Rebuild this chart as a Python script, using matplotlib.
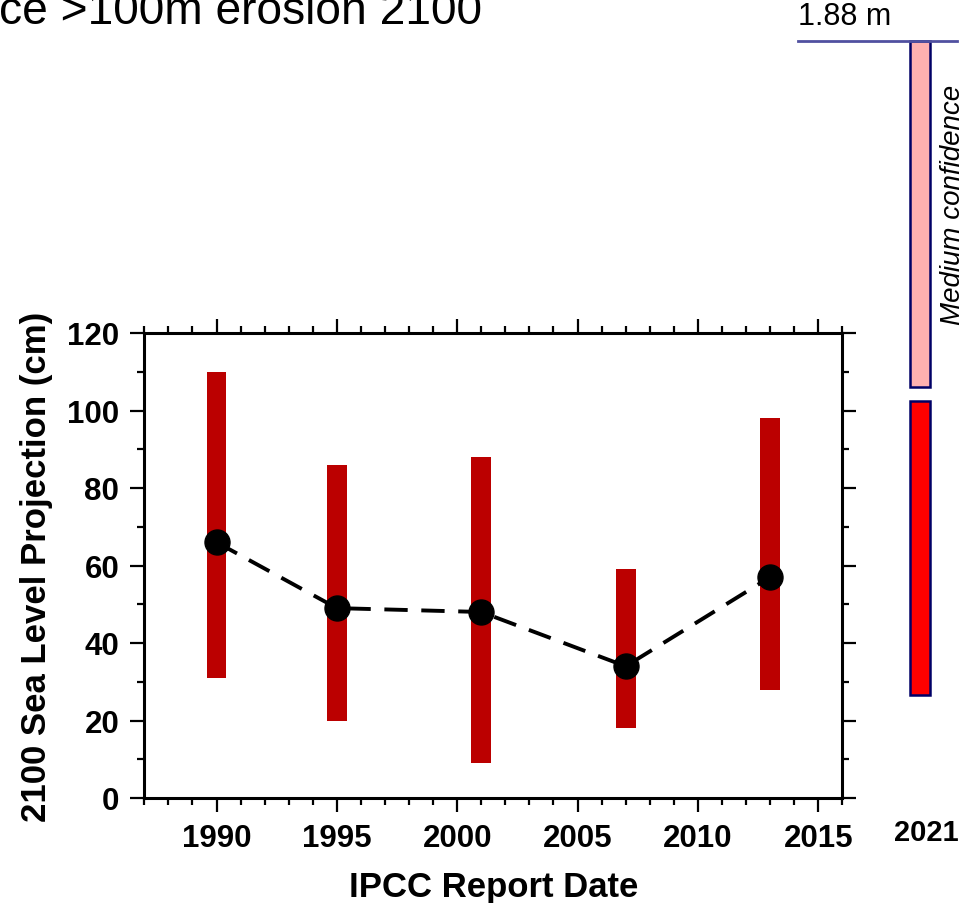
import matplotlib
matplotlib.use("Agg")
import matplotlib.pyplot as plt
import matplotlib.transforms as mtransforms
from matplotlib import font_manager
from matplotlib.ticker import MultipleLocator

# IPCC report projections of 2100 sea level (cm)
years = [1990, 1995, 2001, 2007, 2013]
low = [31, 20, 9, 18, 28]
high = [110, 86, 88, 59, 98]
central = [66, 49, 48, 34, 57]

# 2021 report (AR6) overlay, drawn beside the axes
ar6_likely = [26.7, 102.5]
ar6_medium = [106, 195.4]
ar6_label = "2021"
top_label = "1.88 m"

plt.rcParams['font.family'] = ['Liberation Sans', 'DejaVu Sans']

W, H = 964, 904
fig = plt.figure(figsize=(W / 100, H / 100), dpi=100)
ax = fig.add_axes([144.3 / W, 1 - 799 / H, 698 / W, 465 / H])

bar_w = 0.82
for x, lo, hi in zip(years, low, high):
    ax.bar(x, hi - lo, bottom=lo, width=bar_w, color='#bb0000', zorder=2)
ax.plot(years, central, color='black', linestyle=(0, (6, 3.5)), linewidth=2.8,
        marker='o', markersize=18, zorder=3)

ax.set_xlim(1987, 2016)
ax.set_ylim(0, 120)
ax.xaxis.set_major_locator(MultipleLocator(5))
ax.xaxis.set_minor_locator(MultipleLocator(1))
ax.yaxis.set_major_locator(MultipleLocator(20))
ax.yaxis.set_minor_locator(MultipleLocator(10))
ax.set_xticks([1990, 1995, 2000, 2005, 2010, 2015])
ax.tick_params(which='both', direction='out', top=True, right=True, width=1.6,
               labelsize=22.5)
ax.tick_params(which='major', length=10, pad=8)
ax.tick_params(which='minor', length=5)
for lab in ax.get_xticklabels() + ax.get_yticklabels():
    lab.set_fontweight('bold')
for s in ax.spines.values():
    s.set_linewidth(2.2)

ax.set_xlabel('IPCC Report Date', fontsize=25, fontweight='bold', labelpad=12)
ax.set_ylabel('2100 Sea Level Projection (cm)', fontsize=25, fontweight='bold',
              labelpad=10)

# overlay in axes-x / data-y coordinates
trans = mtransforms.blended_transform_factory(ax.transAxes, ax.transData)
bx = (910 - 144.3) / 698
bw = 20 / 698
ax.bar(bx + bw / 2, ar6_medium[1] - ar6_medium[0], bottom=ar6_medium[0], width=bw,
       color='#ffb0b0', edgecolor='#000066', linewidth=1.8, transform=trans,
       clip_on=False)
ax.bar(bx + bw / 2, ar6_likely[1] - ar6_likely[0], bottom=ar6_likely[0], width=bw,
       color='#ff0000', edgecolor='#000066', linewidth=1.8, transform=trans,
       clip_on=False)
lx0 = (798 - 144.3) / 698
lx1 = (957 - 144.3) / 698
ax.plot([lx0, lx1], [ar6_medium[1], ar6_medium[1]], color='#5050a0', linewidth=2,
        transform=trans, clip_on=False)
ax.text(lx0, ar6_medium[1] + 2.5, top_label, transform=trans, fontsize=22,
        ha='left', va='bottom')
ax.text((953 - 144.3) / 698, (ar6_medium[0] + ar6_medium[1]) / 2 + 2.5,
        'Medium confidence', transform=trans, rotation=90, fontsize=20,
        fontstyle='italic', ha='center', va='center')
ax.text(926 / W, 1 - 833 / H, ar6_label, transform=fig.transFigure, fontsize=21,
        fontweight='bold', ha='center', va='center')

# clipped title text at the top left
names = {f.name for f in font_manager.fontManager.ttflist}
if 'Liberation Sans Narrow' in names:
    tfam, tsize = 'Liberation Sans Narrow', 39.5
else:
    tfam, tsize = 'Liberation Sans', 33.2
fig.text(481.7 / W, 1 - 24 / H, 'ce >100m erosion 2100', family=tfam,
         fontsize=tsize, ha='right', va='baseline')

fig.savefig('out.png', dpi=100, facecolor='white')
